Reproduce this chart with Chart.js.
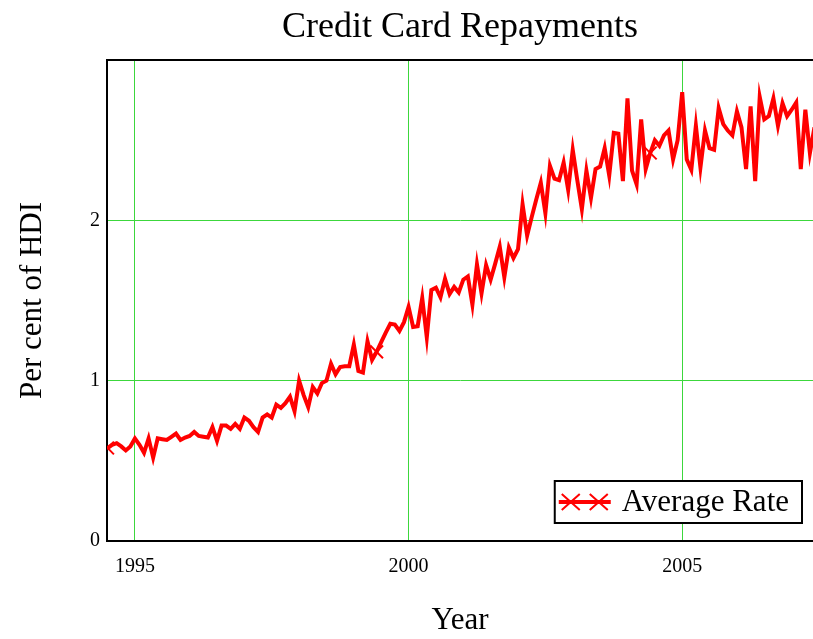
<!DOCTYPE html>
<html>
<head>
<meta charset="utf-8">
<title>Credit Card Repayments</title>
<script src="https://cdn.jsdelivr.net/npm/chart.js@4.4.1/dist/chart.umd.min.js"></script>
<style>
  html, body { margin: 0; padding: 0; background: #fff; overflow: hidden; }
  #wrap { width: 813px; height: 639px; }
</style>
</head>
<body>
<div id="wrap"><canvas id="repayChart"></canvas></div>
<script>
// Credit card repayments as per cent of HDI, one value per month from mid 1994
const startYear = 1994.5;
const yearRange = [1994.49, 2007.39];
const seriesLabel = 'Average Rate';
const averageRate = [
  0.58, 0.60, 0.61, 0.59, 0.565, 0.59, 0.64, 0.60, 0.55, 0.64, 0.52, 0.64,
  0.635, 0.63, 0.65, 0.67, 0.63, 0.645, 0.655, 0.68, 0.655, 0.65, 0.645, 0.71,
  0.625, 0.72, 0.72, 0.70, 0.73, 0.70, 0.77, 0.75, 0.71, 0.68, 0.77, 0.79,
  0.77, 0.85, 0.83, 0.86, 0.90, 0.81, 1.00, 0.91, 0.835, 0.96, 0.92, 0.985,
  1.00, 1.105, 1.04, 1.085, 1.09, 1.09, 1.225, 1.06, 1.05, 1.245, 1.13, 1.18,
  1.24, 1.30, 1.355, 1.35, 1.31, 1.365, 1.46, 1.335, 1.34, 1.515, 1.27, 1.565,
  1.58, 1.52, 1.635, 1.54, 1.585, 1.55, 1.63, 1.65, 1.475, 1.725, 1.545, 1.72,
  1.63, 1.73, 1.835, 1.645, 1.83, 1.765, 1.82, 2.10, 1.905, 2.02, 2.13, 2.235,
  2.045, 2.34, 2.26, 2.25, 2.36, 2.19, 2.44, 2.25, 2.07, 2.31, 2.14, 2.32,
  2.335, 2.45, 2.28, 2.545, 2.54, 2.245, 2.76, 2.31, 2.225, 2.63, 2.32, 2.42,
  2.50, 2.465, 2.53, 2.56, 2.38, 2.50, 2.80, 2.38, 2.315, 2.59, 2.33, 2.56,
  2.45, 2.44, 2.70, 2.60, 2.56, 2.53, 2.68, 2.58, 2.32, 2.71, 2.245, 2.77,
  2.63, 2.65, 2.76, 2.59, 2.73, 2.65, 2.69, 2.735, 2.32, 2.69, 2.42, 2.58
];
const markerIndex = [0, 59, 119];   // months that carry an x marker
const yearTicks = [1995, 2000, 2005];
const rateTicks = [0, 1, 2];
const rateMax = 3;

const serif = "'Liberation Serif', 'Times New Roman', serif";
const gridGreen = 'rgb(60, 215, 60)';
const red = '#ff0000';

// one point per month on a year axis
const points = averageRate.map((v, i) => ({ x: startYear + i / 12, y: v }));

// black line along the top of the plot area
const topFrame = {
  id: 'topFrame',
  afterDraw(chart) {
    const { ctx, chartArea } = chart;
    ctx.save();
    ctx.strokeStyle = '#000';
    ctx.lineWidth = 2;
    ctx.beginPath();
    ctx.moveTo(chartArea.left - 1, chartArea.top);
    ctx.lineTo(chartArea.right, chartArea.top);
    ctx.stroke();
    ctx.restore();
  }
};

// framed legend in the lower right corner of the plot
const boxLegend = {
  id: 'boxLegend',
  afterDraw(chart) {
    const { ctx, chartArea } = chart;
    const ds = chart.data.datasets[0];
    ctx.save();
    ctx.font = '31px ' + serif;
    const textW = ctx.measureText(ds.label).width;
    const h = 42;
    const w = 67 + textW + 13;
    const right = chartArea.right - 11;
    const bottom = chartArea.bottom - 18;
    const left = right - w;
    const top = bottom - h;
    const midY = top + h / 2;

    ctx.fillStyle = '#fff';
    ctx.fillRect(left, top, w, h);
    ctx.lineWidth = 2;
    ctx.strokeStyle = '#000';
    ctx.strokeRect(left, top, w, h);

    ctx.strokeStyle = ds.borderColor;
    ctx.lineWidth = ds.borderWidth;
    ctx.beginPath();
    ctx.moveTo(left + 4, midY);
    ctx.lineTo(left + 56, midY);
    ctx.stroke();
    ctx.lineWidth = 2;
    [left + 16, left + 44].forEach(cx => {
      ctx.beginPath();
      ctx.moveTo(cx - 9, midY - 8); ctx.lineTo(cx + 9, midY + 8);
      ctx.moveTo(cx - 9, midY + 8); ctx.lineTo(cx + 9, midY - 8);
      ctx.stroke();
    });

    ctx.fillStyle = '#000';
    ctx.textBaseline = 'middle';
    ctx.fillText(ds.label, left + 67, midY + 1);
    ctx.restore();
  }
};

new Chart(document.getElementById('repayChart'), {
  type: 'line',
  data: {
    datasets: [{
      label: seriesLabel,
      data: points,
      borderColor: red,
      borderWidth: 4,
      tension: 0,
      fill: false,
      pointStyle: 'crossRot',
      pointRadius: ctx => markerIndex.includes(ctx.dataIndex) ? 9 : 0,
      pointBorderColor: red,
      pointBorderWidth: 2
    }]
  },
  options: {
    responsive: true,
    maintainAspectRatio: false,
    animation: false,
    events: [],
    layout: { padding: 0, autoPadding: false },
    plugins: {
      legend: { display: false },
      tooltip: { enabled: false },
      title: {
        display: true,
        fullSize: false,   // centre over the plot area, not the page
        text: 'Credit Card Repayments',
        color: '#000',
        font: { family: serif, size: 36, weight: 'normal' },
        padding: { top: 6, bottom: 10.8 }
      }
    },
    scales: {
      x: {
        type: 'linear',
        min: yearRange[0],
        max: yearRange[1],
        afterBuildTicks: scale => { scale.ticks = yearTicks.map(v => ({ value: v })); },
        afterFit: scale => {
          scale.height = 98;
          scale.paddingLeft = 0;
          scale.paddingRight = 0;
        },
        ticks: {
          color: '#000',
          font: { family: serif, size: 20 },
          padding: 14,
          maxRotation: 0,
          callback: v => String(v)
        },
        grid: { color: gridGreen, lineWidth: 1, drawTicks: false },
        border: { color: '#000', width: 2 },
        title: {
          display: true,
          text: 'Year',
          color: '#000',
          font: { family: serif, size: 31 },
          padding: { top: 0, bottom: 0 }
        }
      },
      y: {
        min: 0,
        max: rateMax,
        afterBuildTicks: scale => { scale.ticks = rateTicks.map(v => ({ value: v })); },
        afterFit: scale => {
          scale.width = 107;
          scale.paddingTop = 0;
          scale.paddingBottom = 0;
        },
        ticks: {
          color: '#000',
          font: { family: serif, size: 20 },
          padding: 7,
          callback: v => String(v)
        },
        grid: { color: gridGreen, lineWidth: 1, drawTicks: false },
        border: { color: '#000', width: 2 },
        title: {
          display: true,
          text: 'Per cent of HDI',
          color: '#000',
          font: { family: serif, size: 31 },
          padding: { top: 14, bottom: 0 }
        }
      }
    }
  },
  plugins: [topFrame, boxLegend]
});
</script>
</body>
</html>
